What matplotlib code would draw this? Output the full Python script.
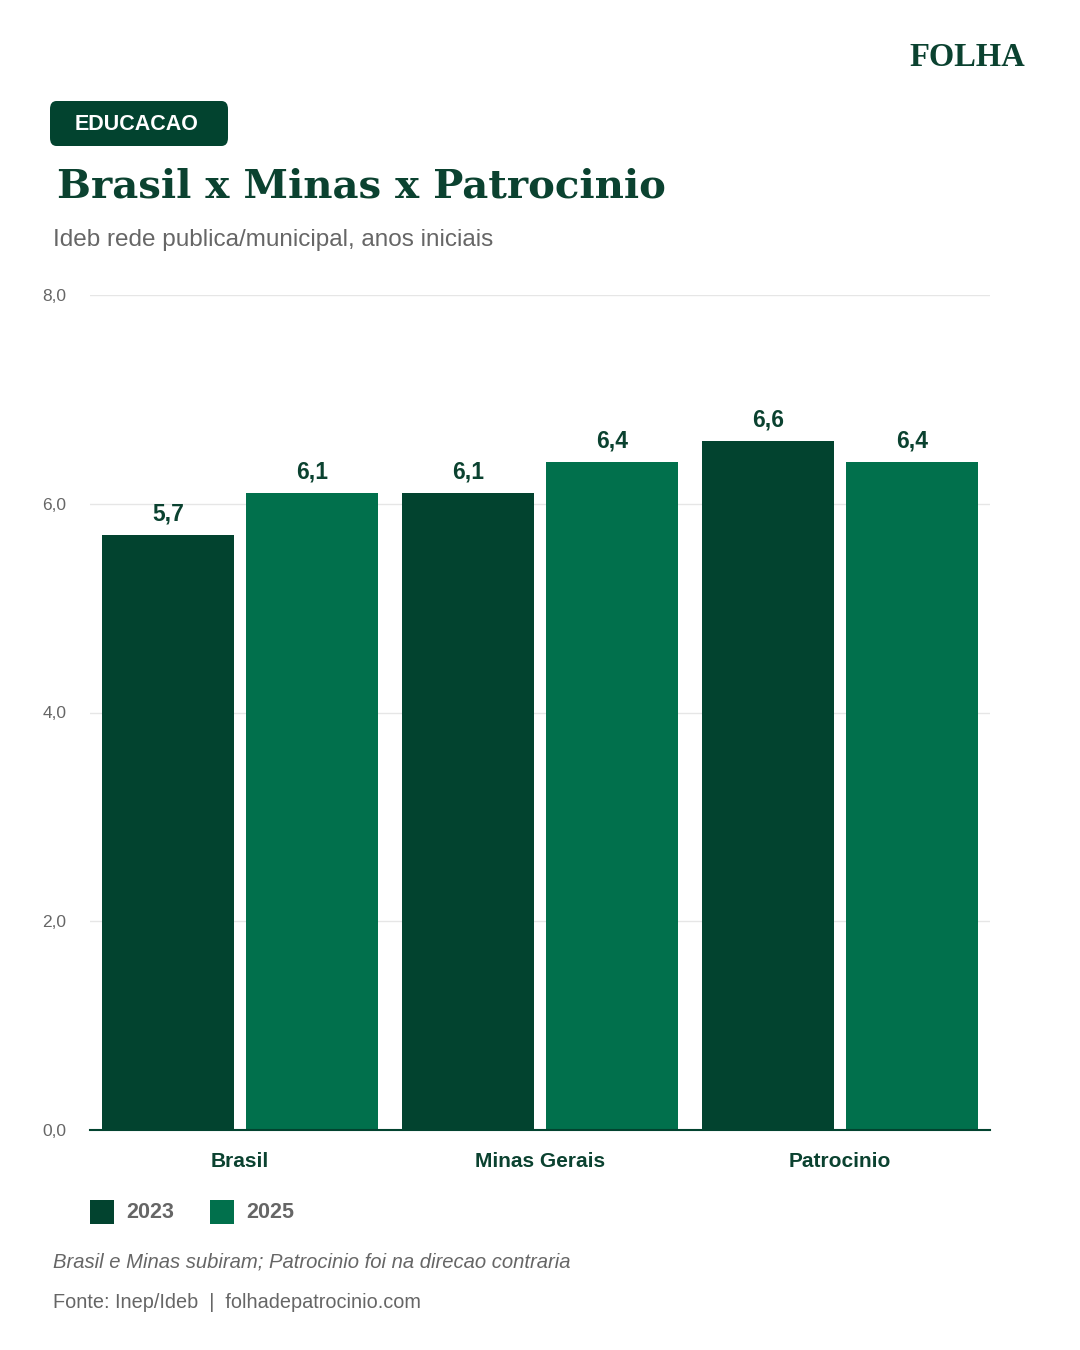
import matplotlib
matplotlib.use("Agg")
import matplotlib.pyplot as plt
from matplotlib.patches import FancyBboxPatch, Rectangle
import numpy as np

categories = ["Brasil", "Minas Gerais", "Patrocinio"]
series_names = ["2023", "2025"]
values_2023 = [5.7, 6.1, 6.6]
values_2025 = [6.1, 6.4, 6.4]
yticks = [0.0, 2.0, 4.0, 6.0, 8.0]
ytick_labels = ["0,0", "2,0", "4,0", "6,0", "8,0"]

DARK = "#02432F"
MID = "#01704C"
TITLE = "#0B4230"
GRAY = "#666666"
SANS = ["Liberation Sans", "DejaVu Sans"]

W, H = 1080, 1350
fig = plt.figure(figsize=(W / 100, H / 100), dpi=100)

def fx(px):
    return px / W

def fy(py):
    return 1 - py / H

# Header
fig.text(fx(1025), fy(58), "FOLHA", ha="right", va="center", fontsize=23.5,
         fontweight="bold", color=TITLE, family=["Liberation Serif", "DejaVu Serif"])
box = FancyBboxPatch((fx(50), fy(146)), fx(178), (146 - 101) / H,
                     boxstyle="round,pad=0,rounding_size=0.006",
                     transform=fig.transFigure, facecolor=DARK, edgecolor="none")
fig.patches.append(box)
fig.text(fx(137), fy(124), "EDUCACAO", ha="center", va="center", fontsize=15.5,
         fontweight="bold", color="white", family=SANS)
fig.text(fx(57), fy(187), "Brasil x Minas x Patrocinio", ha="left", va="center",
         fontsize=29, fontweight="bold", color=TITLE, family=["DejaVu Serif"])
fig.text(fx(53), fy(240), "Ideb rede publica/municipal, anos iniciais", ha="left",
         va="center", fontsize=17.5, color=GRAY, family=SANS)

# Axes
ax = fig.add_axes([fx(90), fy(1130), fx(990 - 90), (1130 - 295) / H])
x = np.arange(len(categories))
bw = 0.437
off = 0.24
b1 = ax.bar(x - off, values_2023, bw, color=DARK, label=series_names[0], zorder=3)
b2 = ax.bar(x + off, values_2025, bw, color=MID, label=series_names[1], zorder=3)
for bars, vals in ((b1, values_2023), (b2, values_2025)):
    for r, v in zip(bars, vals):
        ax.text(r.get_x() + r.get_width() / 2, v + 0.09, f"{v:.1f}".replace(".", ","),
                ha="center", va="bottom", fontsize=16.5, fontweight="bold",
                color=TITLE, family=SANS)

ax.set_xlim(-0.5, 2.5)
ax.set_ylim(0, 8)
ax.set_yticks(yticks)
ax.set_yticklabels(ytick_labels, family=SANS, fontsize=12.5, color=GRAY)
ax.set_xticks(x)
ax.set_xticklabels(categories, family=SANS, fontsize=15, fontweight="bold", color=TITLE)
ax.tick_params(axis="both", length=0)
ax.tick_params(axis="y", pad=17)
ax.tick_params(axis="x", pad=16)
ax.grid(axis="y", color="#E6E6E6", linewidth=1, zorder=0)
for s in ("top", "right", "left"):
    ax.spines[s].set_visible(False)
ax.spines["bottom"].set_color(DARK)
ax.spines["bottom"].set_linewidth(1.5)
ax.spines["bottom"].set_zorder(4)

# Legend
for i, (name, col) in enumerate(zip(series_names, [DARK, MID])):
    x0 = 90 + i * 120
    fig.patches.append(Rectangle((fx(x0), fy(1224)), fx(24), 24 / H,
                                 transform=fig.transFigure, facecolor=col, edgecolor="none"))
    fig.text(fx(x0 + 36), fy(1212), name, ha="left", va="center", fontsize=15.5,
             fontweight="bold", color=GRAY, family=SANS)

# Footer
fig.text(fx(53), fy(1262), "Brasil e Minas subiram; Patrocinio foi na direcao contraria",
         ha="left", va="center", fontsize=14.6, style="italic", color=GRAY, family=SANS)
fig.text(fx(53), fy(1302), "Fonte: Inep/Ideb  |  folhadepatrocinio.com",
         ha="left", va="center", fontsize=14.3, color=GRAY, family=SANS)

fig.savefig("out.png", dpi=100, facecolor="white")
